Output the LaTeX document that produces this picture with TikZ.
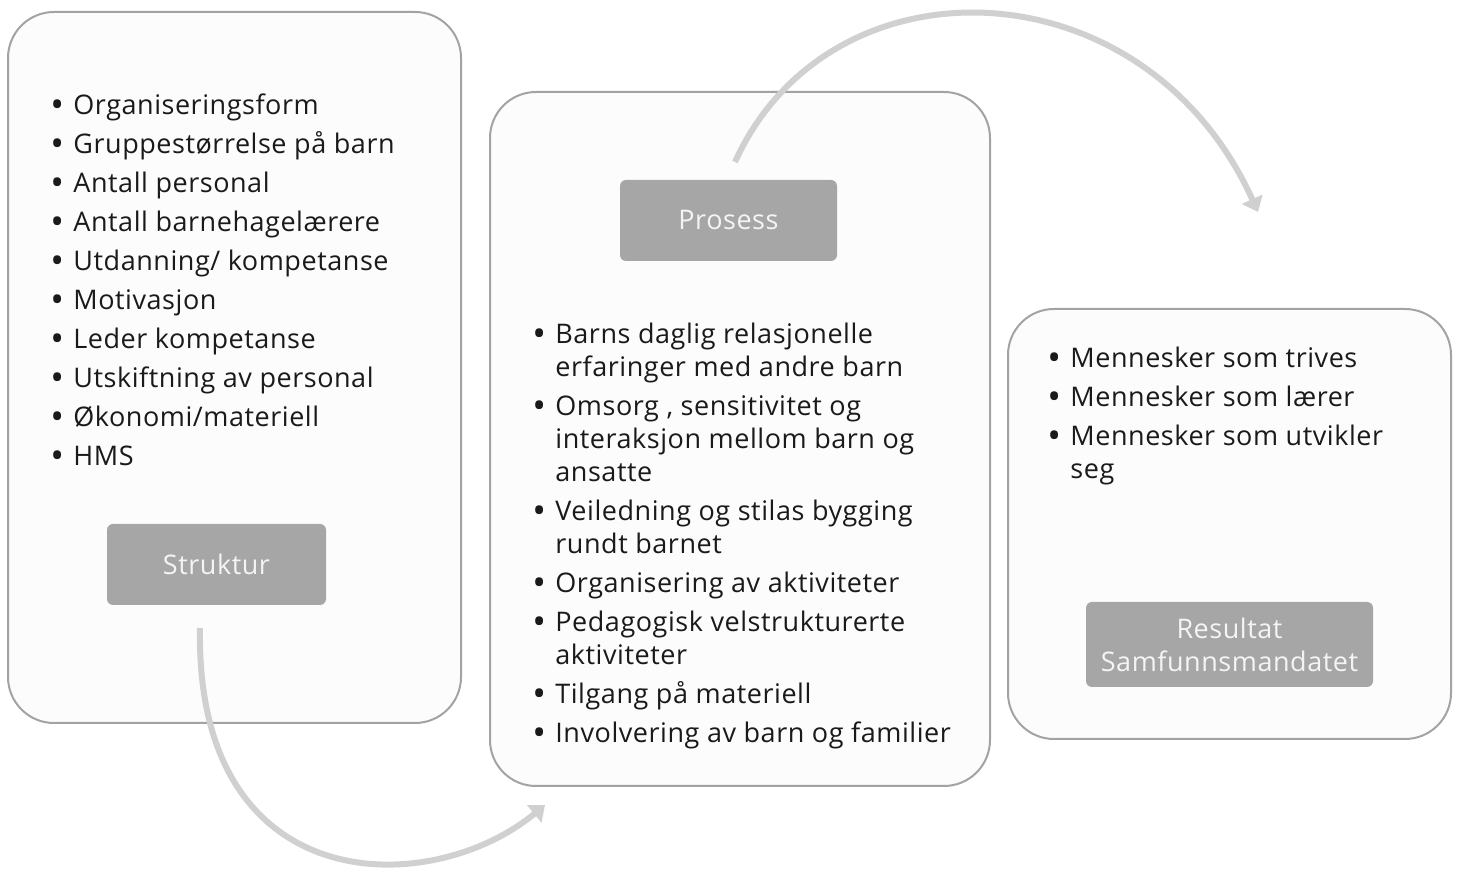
\documentclass[tikz,border=0pt]{standalone}
\usepackage{fontspec}
\setmainfont{Open Sans}[LetterSpace=2]
\usetikzlibrary{arrows.meta}
\definecolor{boxline}{HTML}{A3A3A3}
\definecolor{boxfill}{HTML}{FCFCFC}
\definecolor{labfill}{HTML}{A6A6A6}
\definecolor{labtext}{HTML}{F4F4F4}
\definecolor{arrowgrey}{HTML}{D0D0D0}
\definecolor{txt}{HTML}{1A1A1A}
\tikzset{
  bigbox/.style={draw=boxline, fill=boxfill, line width=1pt, rounded corners=23pt, inner sep=0pt},
  labbox/.style={fill=labfill, rounded corners=3pt, inner sep=0pt, text=labtext, align=center,
    font=\fontsize{13.5}{16.5}\selectfont},
  listnode/.style={anchor=base west, inner sep=0pt, text=txt, font=\fontsize{13.5}{16.5}\selectfont},
  flow/.style={draw=arrowgrey, line width=3pt, -{Triangle[length=7pt,width=11pt]}}
}
\newcommand{\bl}{\raisebox{-1.3pt}{\scalebox{1.35}{\textbullet}}}
\begin{document}
\begin{tikzpicture}[x=0.5pt,y=-0.5pt]
\useasboundingbox (0,0) rectangle (1458,870);
% boxes
\node[bigbox, minimum width=226.5pt, minimum height=355.5pt] (b1) at (234.5,367.5) {};
\node[bigbox, minimum width=250pt, minimum height=347pt] (b2) at (740,439) {};
\node[bigbox, minimum width=221.5pt, minimum height=215pt] (b3) at (1229.5,524) {};
% labels
\node[labbox, minimum width=109.5pt, minimum height=40.5pt] (s1) at (216.5,564.5) {Struktur};
\node[labbox, minimum width=108.5pt, minimum height=40.5pt] (s2) at (728.5,220.5) {Prosess};
\node[labbox, minimum width=143.5pt, minimum height=42.5pt] (s3) at (1229.5,644.5) {Resultat\\Samfunnsmandatet};
% lists
\node[listnode] (l1) at (50,115) {\begin{tabular}[t]{@{}p{11.5pt}@{}l@{}}
\bl & Organiseringsform\\[3pt]
\bl & Gruppestørrelse på barn\\[3pt]
\bl & Antall personal\\[3pt]
\bl & Antall barnehagelærere\\[3pt]
\bl & Utdanning/ kompetanse\\[3pt]
\bl & Motivasjon\\[3pt]
\bl & Leder kompetanse\\[3pt]
\bl & Utskiftning av personal\\[3pt]
\bl & Økonomi/materiell\\[3pt]
\bl & HMS
\end{tabular}};
\node[listnode] (l2) at (532,344) {\begin{tabular}[t]{@{}p{11.5pt}@{}l@{}}
\bl & Barns daglig relasjonelle\\
 & erfaringer med andre barn\\[3pt]
\bl & Omsorg , sensitivitet og\\
 & interaksjon mellom barn og\\
 & ansatte\\[3pt]
\bl & Veiledning og stilas bygging\\
 & rundt barnet\\[3pt]
\bl & Organisering av aktiviteter\\[3pt]
\bl & Pedagogisk velstrukturerte\\
 & aktiviteter\\[3pt]
\bl & Tilgang på materiell\\[3pt]
\bl & Involvering av barn og familier
\end{tabular}};
\node[listnode] (l3) at (1047,368) {\begin{tabular}[t]{@{}p{11.5pt}@{}l@{}}
\bl & Mennesker som trives\\[3pt]
\bl & Mennesker som lærer\\[3pt]
\bl & Mennesker som utvikler\\
 & seg
\end{tabular}};
% arrows
\coordinate (a1s) at (200,628);
\coordinate (a1e) at (545,805);
\coordinate (a2s) at (735,162);
\coordinate (a2e) at (1258,212);
\draw[flow] (a1s) .. controls (195,900) and (430,900) .. (a1e);
\draw[flow] (a2s) .. controls (830,-48) and (1145,-38) .. (a2e);
\end{tikzpicture}
\end{document}
